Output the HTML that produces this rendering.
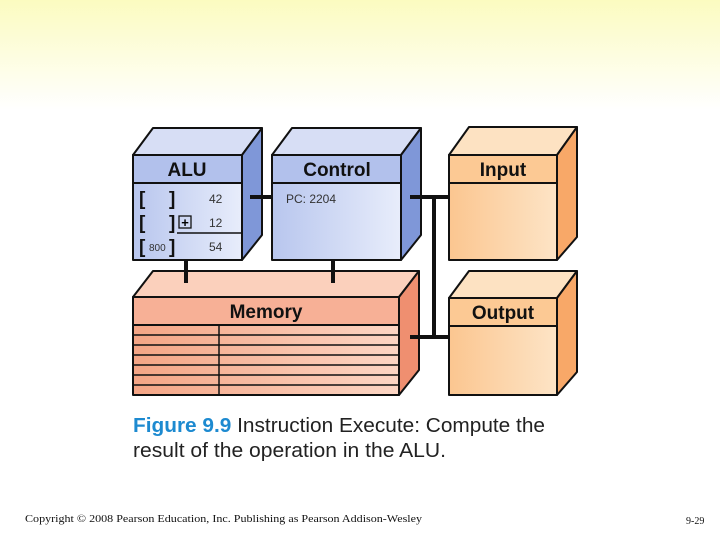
<!DOCTYPE html>
<html><head><style>
html,body{margin:0;padding:0;width:720px;height:540px;overflow:hidden;background:#fff}
</style></head><body>
<svg width="720" height="540" xmlns="http://www.w3.org/2000/svg" style="position:absolute;left:0;top:0">
<defs>
<linearGradient id="bg" x1="0" y1="0" x2="0" y2="1"><stop offset="0" stop-color="#fbfbc0"/><stop offset="1" stop-color="#ffffff"/></linearGradient>
<linearGradient id="bf" x1="0" y1="0" x2="1" y2="0"><stop offset="0" stop-color="#b8c6ee"/><stop offset="1" stop-color="#e8edfb"/></linearGradient>
<linearGradient id="of" x1="0" y1="0" x2="1" y2="0"><stop offset="0" stop-color="#fbc690"/><stop offset="1" stop-color="#fde4c6"/></linearGradient>
<linearGradient id="mf" x1="0" y1="0" x2="1" y2="0"><stop offset="0" stop-color="#f5a585"/><stop offset="1" stop-color="#fcd6c4"/></linearGradient>
</defs>
<rect x="0" y="0" width="720" height="110" fill="url(#bg)"/>
<g stroke="#111" stroke-width="2" stroke-linejoin="round">
<polygon points="133,155 153,128 262,128 242,155" fill="#d7def5"/>
<polygon points="242,155 262,128 262,235 242,260" fill="#7f97d8"/>
<rect x="133" y="155" width="109" height="105" fill="url(#bf)"/>
<rect x="133" y="155" width="109" height="28" fill="#b2c1ec"/>
<line x1="177" y1="233" x2="242" y2="233" stroke-width="1.5"/>
<polygon points="272,155 292,128 421,128 401,155" fill="#d7def5"/>
<polygon points="401,155 421,128 421,235 401,260" fill="#7f97d8"/>
<rect x="272" y="155" width="129" height="105" fill="url(#bf)"/>
<rect x="272" y="155" width="129" height="28" fill="#b2c1ec"/>
<polygon points="449,155 469,127 577,127 557,155" fill="#fde2c2"/>
<polygon points="557,155 577,127 577,237 557,260" fill="#f8a868"/>
<rect x="449" y="155" width="108" height="105" fill="url(#of)"/>
<rect x="449" y="155" width="108" height="28" fill="#fcc994"/>
<polygon points="133,297 153,271 419,271 399,297" fill="#fbd0bc"/>
<polygon points="399,297 419,271 419,370 399,395" fill="#ef8f70"/>
<rect x="133" y="297" width="266" height="98" fill="url(#mf)"/>
<rect x="133" y="297" width="266" height="28" fill="#f7b096"/>
<g stroke-width="1.5">
<line x1="133" y1="335" x2="399" y2="335"/><line x1="133" y1="345" x2="399" y2="345"/>
<line x1="133" y1="355" x2="399" y2="355"/><line x1="133" y1="365" x2="399" y2="365"/>
<line x1="133" y1="375" x2="399" y2="375"/><line x1="133" y1="385" x2="399" y2="385"/>
<line x1="219" y1="325" x2="219" y2="395"/>
</g>
<polygon points="449,298 469,271 577,271 557,298" fill="#fde2c2"/>
<polygon points="557,298 577,271 577,372 557,395" fill="#f8a868"/>
<rect x="449" y="298" width="108" height="97" fill="url(#of)"/>
<rect x="449" y="298" width="108" height="28" fill="#fcc994"/>
</g>
<g stroke="#111" stroke-width="4">
<line x1="250" y1="197" x2="272" y2="197"/>
<line x1="410" y1="197" x2="449" y2="197"/>
<line x1="434" y1="195" x2="434" y2="339"/>
<line x1="410" y1="337" x2="449" y2="337"/>
<line x1="186" y1="261" x2="186" y2="283"/>
<line x1="333" y1="261" x2="333" y2="283"/>
</g>
<g font-family="Liberation Sans, sans-serif" font-weight="bold" font-size="19" fill="#111" text-anchor="middle">
<text x="187" y="176">ALU</text>
<text x="337" y="176">Control</text>
<text x="503" y="176">Input</text>
<text x="266" y="318">Memory</text>
<text x="503" y="319">Output</text>
</g>
<g font-family="Liberation Sans, sans-serif" font-size="12" fill="#333">
<text x="286" y="203">PC: 2204</text>
<text x="209" y="203">42</text>
<text x="209" y="227">12</text>
<text x="209" y="251">54</text>
<text x="149" y="251" font-size="10">800</text>
</g>
<g font-family="Liberation Sans, sans-serif" font-weight="bold" font-size="19" fill="#111">
<text x="139" y="205">[</text><text x="169" y="205">]</text>
<text x="139" y="229">[</text><text x="169" y="229">]</text>
<text x="139" y="253">[</text><text x="169" y="253">]</text>
</g>
<rect x="179" y="216" width="12" height="12" fill="none" stroke="#111" stroke-width="1.3"/>
<text x="185" y="227" font-family="Liberation Sans, sans-serif" font-weight="bold" font-size="13" text-anchor="middle">+</text>
<g font-family="Liberation Sans, sans-serif" font-size="20" fill="#222">
<text x="133" y="432" textLength="412" lengthAdjust="spacingAndGlyphs"><tspan fill="#1d8ad0" font-weight="bold">Figure 9.9</tspan>  Instruction Execute: Compute the</text>
<text x="133" y="457" textLength="313" lengthAdjust="spacingAndGlyphs">result of the operation in the ALU.</text>
</g>
<text x="25" y="522" font-family="Liberation Serif, serif" font-size="11" fill="#111" textLength="397" lengthAdjust="spacingAndGlyphs">Copyright © 2008 Pearson Education, Inc. Publishing as Pearson Addison-Wesley</text>
<text x="686" y="524" font-family="Liberation Serif, serif" font-size="10" fill="#111">9-29</text>
</svg>
</body></html>
